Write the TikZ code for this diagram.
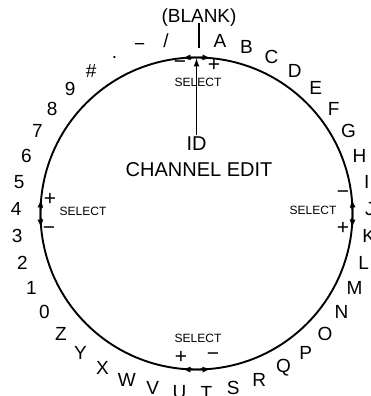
\documentclass[tikz,border=0pt]{standalone}
\usepackage{fontspec}
\setmainfont{Liberation Sans}
\usetikzlibrary{arrows.meta}

\begin{document}
\begin{tikzpicture}[x=1pt, y=1pt,
    ring/.style={inner sep=0pt, font=\fontsize{19}{19}\selectfont},
    sign/.style={inner sep=0pt, font=\fontsize{21}{21}\selectfont},
    select/.style={inner sep=0pt, font=\fontsize{12}{12}\selectfont},
    title/.style={inner sep=2pt, font=\fontsize{20}{22}\selectfont},
    dial/.style={line width=1.9pt},
    edge/.style={line width=1.9pt, -},
    pointer/.style={line width=1.9pt, -{Latex[length=9pt,width=6pt]}}
]
    \useasboundingbox (0,0) rectangle (370,396);
    \coordinate (c) at (196.5,182.5);
    \draw[dial] (c) circle[radius=156];

    % arrows on the dial
    \begin{scope}[shift={(c)}]
        \coordinate (top) at (90:156);
        \draw[pointer] (90:156) arc[start angle=90, end angle=95.5, radius=156];
        \draw[pointer] (90:156) arc[start angle=90, end angle=84.5, radius=156];
        \draw[pointer] (180:156) arc[start angle=180, end angle=174.5, radius=156];
        \draw[pointer] (180:156) arc[start angle=180, end angle=185.5, radius=156];
        \draw[pointer] (0:156) arc[start angle=0, end angle=5.5, radius=156];
        \draw[pointer] (0:156) arc[start angle=0, end angle=-5.5, radius=156];
        \draw[pointer] (270:156) arc[start angle=270, end angle=264.5, radius=156];
        \draw[pointer] (270:156) arc[start angle=270, end angle=275.5, radius=156];
    \end{scope}

    \node[title] (id) at (196.5,252) {ID};
    \node[title] (edit) at (199,226) {CHANNEL EDIT};
    \draw[pointer] (id) -- (top);

    \node[ring] (blank) at (199,378) {(BLANK)};
    \coordinate (blankend) at (199,348);
    \draw[edge] (blank.base) -- (blankend);

    % select marks
    \node[select] (seltop) at (198,314) {SELECT};
    \node[select] (selbot) at (198,58) {SELECT};
    \node[select] (selleft) at (83,185) {SELECT};
    \node[select] (selright) at (313,186) {SELECT};
    \node[sign] (topminus) at (180,331) {−};
    \node[sign] (topplus) at (214,331) {+};
    \node[sign] (botplus) at (181,39) {+};
    \node[sign] (botminus) at (213,39) {−};
    \node[sign] (leftplus) at (50,197) {+};
    \node[sign] (leftminus) at (49,165) {−};
    \node[sign] (rightminus) at (343,201) {−};
    \node[sign] (rightplus) at (343,168) {+};

    % characters round the dial
    \begin{scope}[shift={(193,180)}]
        \node[ring] (rA) at (81.22:177) {A};
        \node[ring] (rB) at (72.44:177) {B};
        \node[ring] (rC) at (63.66:177) {C};
        \node[ring] (rD) at (54.88:177) {D};
        \node[ring] (rE) at (46.10:177) {E};
        \node[ring] (rF) at (37.32:177) {F};
        \node[ring] (rG) at (28.54:177) {G};
        \node[ring] (rH) at (19.76:177) {H};
        \node[ring] (rI) at (10.98:177) {I};
        \node[ring] (rJ) at (2.20:177) {J};
        \node[ring] (rK) at (-6.59:177) {K};
        \node[ring] (rL) at (-15.37:177) {L};
        \node[ring] (rM) at (-24.15:177) {M};
        \node[ring] (rN) at (-32.93:177) {N};
        \node[ring] (rO) at (-41.71:177) {O};
        \node[ring] (rP) at (-50.49:177) {P};
        \node[ring] (rQ) at (-59.27:177) {Q};
        \node[ring] (rR) at (-68.05:177) {R};
        \node[ring] (rS) at (-76.83:177) {S};
        \node[ring] (rT) at (-85.61:177) {T};
        \node[ring] (rU) at (-94.39:177) {U};
        \node[ring] (rV) at (-103.17:177) {V};
        \node[ring] (rW) at (-111.95:177) {W};
        \node[ring] (rX) at (-120.73:177) {X};
        \node[ring] (rY) at (-129.51:177) {Y};
        \node[ring] (rZ) at (-138.29:177) {Z};
        \node[ring] (r0) at (-147.07:177) {0};
        \node[ring] (r1) at (-155.85:177) {1};
        \node[ring] (r2) at (-164.63:177) {2};
        \node[ring] (r3) at (-173.41:177) {3};
        \node[ring] (r4) at (177.80:177) {4};
        \node[ring] (r5) at (169.02:177) {5};
        \node[ring] (r6) at (160.24:177) {6};
        \node[ring] (r7) at (151.46:177) {7};
        \node[ring] (r8) at (142.68:177) {8};
        \node[ring] (r9) at (133.90:177) {9};
        \node[ring] (rhash) at (125.12:177) {\#};
        \node[ring] (rdot) at (116.34:177) {.};
        \node[ring] (rdash) at (107.56:177) {−};
        \node[ring] (rslash) at (98.78:177) {/};
    \end{scope}
\end{tikzpicture}
\end{document}
